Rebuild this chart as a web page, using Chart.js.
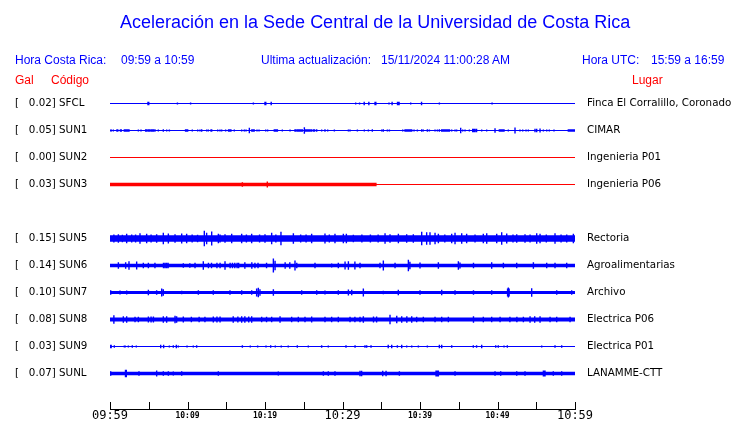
<!DOCTYPE html>
<html>
<head>
<meta charset="utf-8">
<script src="https://cdn.jsdelivr.net/npm/chart.js@4.4.1/dist/chart.umd.min.js"></script>
<style>
  body { margin: 0; background: #fff; }
  #wrap { position: relative; width: 740px; height: 423px; overflow: hidden; }
  #wrap canvas { position: absolute; left: 0; top: 0; }
  .txt { position: absolute; font-family: "Liberation Sans", Arial, sans-serif; white-space: pre; }
  .blue { color: #0000ff; }
  .red { color: #ff0000; }
  .title { font-size: 18px; line-height: 18px; }
  .small { font-size: 12px; line-height: 12px; }
</style>
</head>
<body>
<div id="wrap">
  <canvas id="sismo" width="740" height="423"></canvas>
  <div class="txt blue title" style="left:120px;top:13px">Aceleración en la Sede Central de la Universidad de Costa Rica</div>
  <div class="txt blue small" style="left:15px;top:54px">Hora Costa Rica:</div>
  <div class="txt blue small" style="left:121px;top:54px">09:59 a 10:59</div>
  <div class="txt blue small" style="left:261px;top:54px">Ultima actualización:</div>
  <div class="txt blue small" style="left:381px;top:54px">15/11/2024 11:00:28 AM</div>
  <div class="txt blue small" style="left:582px;top:54px">Hora UTC:</div>
  <div class="txt blue small" style="left:651px;top:54px">15:59 a 16:59</div>
  <div class="txt red small" style="left:15px;top:74px">Gal</div>
  <div class="txt red small" style="left:51px;top:74px">Código</div>
  <div class="txt red small" style="left:632px;top:74px">Lugar</div>
</div>
<script>
// Stations (top to bottom)
const codes = ['SFCL', 'SUN1', 'SUN2', 'SUN3', 'SUN5', 'SUN6', 'SUN7', 'SUN8', 'SUN9', 'SUNL'];
const places = ['Finca El Corralillo, Coronado', 'CIMAR', 'Ingenieria P01', 'Ingenieria P06', 'Rectoria',
                'Agroalimentarias', 'Archivo', 'Electrica P06', 'Electrica P01', 'LANAMME-CTT'];
const peakGal = [0.02, 0.05, 0.00, 0.03, 0.15, 0.14, 0.10, 0.08, 0.03, 0.07];
const traceRow = [0, 1, 2, 3, 5, 6, 7, 8, 9, 10];
const offline = ['SUN2', 'SUN3'];

// x axis: minutes after 09:59
const tickLabels = ['09:59', '10:09', '10:19', '10:29', '10:39', '10:49', '10:59'];

// background noise level of each trace: [start minute, half amplitude]
const bands = [
    [[0, 0.5]], [[0, 0.5]], [[0, 0.5]], [[0, 1.7], [34.4, 0.5]], [[0, 3.2]],
    [[0, 1.7]], [[0, 1.5]], [[0, 2]], [[0, 0.6]], [[0, 1.7]]
];

// peaks: [minute, amplitude]
const spikesSFCL = [[4.9,1.7],[5.0,1.7],[8.7,1],[10.4,1],[18.5,1],[20.0,1.7],[20.1,1.7],[20.8,1.7],[31.7,1],[32.2,1],
    [32.8,1.7],[33.4,1.7],[34.2,1.7],[34.3,1.7],[36.0,1],[36.4,1.7],[37.1,1.7],[37.2,1.7],[37.3,1.7],[38.8,1],[40.2,1.7],[42.5,1],[49.3,1]];
const spikesSUN1 = [[0.13,1.3],[0.43,1],[0.9,1.3],[1.0,1.3],[1.35,1.3],[1.45,1.3],[1.85,1.3],[2.0,1.3],[2.15,1.3],[2.3,1.3],
    [2.45,1.3],[3.66,1],[4.0,1],[4.6,1.3],[4.75,1.3],[4.95,1.3],[5.1,1.3],[5.3,1.3],[5.45,1.3],[5.6,1.3],[5.8,1.3],[6.24,1],
    [6.88,1.3],[7.31,1],[7.66,1],[9.75,1.3],[9.9,1.3],[10.02,1.3],[10.62,1],[11.31,1],[11.61,1],[11.83,1.3],[12.47,1],[12.69,1],
    [13.0,1],[13.12,1.3],[13.89,1],[14.19,1],[14.41,1],[14.92,1],[15.3,1.3],[15.45,1.3],[15.6,1.3],[16.04,1],[16.99,1],[17.33,1],
    [17.55,1],[17.98,2.7],[18.3,1.3],[18.45,1.3],[18.6,1.3],[18.97,1],[19.23,1],[20.09,1],[20.34,1],[21.2,1.3],[21.35,1.3],
    [21.5,1.3],[21.6,1.3],[22.24,1],[23.23,1],[23.87,1.3],[24.0,1.3],[24.2,1.3],[24.35,1.3],[24.5,1.3],[24.65,1.3],[24.82,1.3],
    [25.08,3.3],[25.2,1.3],[25.38,1.3],[25.55,1.3],[25.7,1.3],[25.81,1.3],[26.0,1.3],[26.24,1.3],[26.4,1.3],[26.67,1.3],[27.31,1],
    [27.74,1.3],[28.09,1],[28.95,1],[30.76,1],[30.97,1],[31.92,1],[32.82,1],[33.34,1],[33.85,1.3],[35.06,1],[35.27,1.3],[35.79,1],
    [36.05,1],[37.77,1],[38.07,1.3],[38.2,1.3],[38.35,1.3],[38.5,1.3],[38.65,1.3],[38.8,1.3],[38.93,1.3],[39.23,1],[39.66,1],
    [40.22,1.3],[40.43,1],[40.95,1.3],[41.21,1],[41.94,1],[42.24,1],[42.5,1.3],[42.8,1.3],[42.95,1.3],[43.1,1.3],[43.23,1.3],
    [43.4,1.3],[43.55,1.3],[43.66,1.3],[43.8,1.3],[44.09,1],[44.52,1],[44.73,1],[45.25,2.7],[45.51,1],[45.81,1],[46.37,1],
    [46.8,1.7],[46.95,1.7],[47.1,1.7],[47.3,1.7],[47.96,1],[48.6,1],[49.68,2.3],[50.24,1.3],[50.4,1.3],[50.55,1.3],[50.7,1.3],
    [50.84,1.3],[51.4,1],[52.26,3],[52.9,1],[53.25,1],[53.68,1],[53.98,1],[54.84,1.7],[55.06,1.7],[55.49,2],[55.92,1],[56.35,1],
    [56.69,1],[57.29,1],[59.14,1.3],[59.3,1.3],[59.45,1.3],[59.57,1.3],[59.75,1.3],[59.9,1.3],[60,1.3]];
const spikesSUN2 = [];
const spikesSUN3 = [[17.08,2.3],[20.3,3]];
const spikesSUN5 = [[0.5,4],[1.08,4.3],[1.6,3.8],[2.15,4.7],[2.8,4],[3.3,4],[3.87,5.3],[4.73,4.7],[5.3,4],[6.02,4.3],[6.88,5.7],
    [7.53,5],[8.39,4.3],[9.25,5],[9.89,4.7],[10.6,4],[11.3,3.8],[12.17,7.7],[12.47,5.8],[13.12,7],[13.98,4.7],[14.2,4],[14.84,4.3],
    [15.7,4.7],[16.99,4.7],[17.6,4],[18.28,4.7],[19.3,4],[20.0,4.3],[20.86,5.7],[21.4,4],[22.06,6.7],[23.66,5.3],[24.6,4],[25.3,4],
    [26.02,4.7],[27.74,5],[28.3,4],[29.03,4.7],[30.11,4.7],[30.5,4.7],[31.4,3.7],[32.5,4],[33.6,4],[34.6,4],[35.49,5.3],[36.13,4.3],
    [37.21,4.7],[38.28,4.3],[39.14,4.3],[40.22,6.7],[40.86,6.3],[41.29,6.3],[41.94,5.7],[42.37,4.7],[43.2,4],[44.09,4.7],[44.52,5.7],
    [45.38,5.3],[46.02,4.7],[47.1,4],[48.17,4.7],[48.61,5.3],[49.9,4.7],[50.54,6.3],[51.19,5],[52.0,4],[52.48,4.3],[53.55,4.3],
    [54.2,4],[55.06,5.3],[55.49,4.7],[56.3,4],[57.42,5.3],[58.2,4],[58.93,4],[59.79,4.7]];
const spikesSUN6 = [[1.08,3.3],[2.02,3.3],[2.45,4.3],[3.44,4],[4.3,2.7],[4.95,2.7],[5.8,2.7],[6.9,2.7],[7.1,2.7],[7.3,2.7],
    [7.5,2.7],[9.46,2.3],[10.3,2.3],[10.97,2.7],[12.04,4.3],[12.7,2.7],[13.1,2.7],[13.8,2.7],[14.2,2.7],[14.84,4.3],[15.5,2.7],
    [15.8,2.7],[16.1,2.7],[16.4,2.7],[16.6,2.7],[17.4,3.3],[18.3,3.3],[18.7,2.7],[19.1,2.7],[20.2,2.7],[21.08,7],[21.3,4.7],
    [22.6,3.3],[23.2,3.3],[23.87,5],[24.1,2.7],[26.45,2.7],[28.6,2],[29.46,2.7],[30.33,4],[30.76,4.3],[31.6,4],[32.26,2.7],
    [34.84,2.7],[35.27,5],[36.78,2.7],[38.5,5.7],[38.7,3.7],[40,3],[42.37,3.3],[44.95,4.3],[45.16,3],[46.9,2.7],[49.25,3.3],
    [50.76,2.7],[52.48,2.7],[54.63,3.3],[56.35,2.7],[57.42,2.7],[58.93,2.7]];
const spikesSUN7 = [[0.09,2.3],[1.29,2],[2.15,2],[4.95,2.7],[6.02,2.3],[6.67,4],[6.88,3.3],[9.25,1.7],[11.4,2.3],[13.33,2.3],
    [15.48,2.3],[16.99,2.3],[18.28,2.3],[18.92,4],[19.14,4.7],[19.35,3.3],[21.08,3.3],[24.73,2.3],[26.67,2.3],[27.74,2],[29.46,2.3],
    [30.76,3],[31.19,2.7],[32.69,4],[35.27,1.7],[37.2,2.7],[40,2.3],[42.8,2.7],[44.52,2.3],[46.9,2.3],[49.25,2.3],[51.3,4],
    [51.4,5],[51.5,4],[54.41,4.3],[57.64,2.3],[59.57,2.3]];
const spikesSUN8 = [[0.5,4.3],[1.72,3.3],[2.15,3.3],[3.23,2.7],[3.66,2.7],[4.95,3],[5.3,3],[5.6,3],[6.88,3.3],[7.31,3.3],
    [8.39,3.7],[8.6,3.3],[9.46,3],[10.5,2.7],[11.5,2.7],[12.25,2.7],[13.33,3],[13.8,3],[14.2,3],[15.9,3.3],[16.5,3],[16.99,3.3],
    [17.4,3.3],[17.9,3],[18.28,3.3],[19.57,2.7],[20.2,2.7],[20.86,2.7],[21.94,3.3],[23.44,2.7],[24.3,2.7],[25.16,2.7],[26.02,3],
    [27.74,2.7],[28.6,2.7],[29.46,2.7],[30.97,2.7],[31.6,2.7],[32.26,2.7],[32.69,3.3],[34,3],[34.4,3],[36.13,4.7],[37,3.7],
    [37.64,3.3],[38.3,3.3],[38.93,3.3],[39.57,2.7],[40.43,2.7],[41.94,2.7],[42.8,2.7],[43.66,2.7],[46.9,3.3],[48.17,2.7],
    [49.25,2.7],[50.33,2.7],[51.6,2.7],[52.5,2.7],[53.34,2.7],[54.2,3.3],[54.8,3.3],[55.49,3.3],[56.78,2.7],[57.64,2.7],[59.36,2.7]];
const spikesSUN9 = [[0.05,1.7],[0.15,1.7],[0.56,1.3],[1.85,1],[1.95,1],[2.37,1],[2.88,1.3],[3.4,1],[6.54,1.7],[6.92,1.7],
    [7.66,1],[8.17,1.3],[8.56,1.7],[8.82,1],[9.94,1],[10.75,1],[11.18,1.3],[17.08,1.3],[18.1,1],[19.05,1],[20.13,1],[20.73,1.3],
    [21.33,1],[22.1,1],[23.0,1],[24.17,1.3],[25.59,1],[27.31,1.3],[28.17,1],[30.45,1.3],[31.62,1.3],[32.9,1.3],[33.12,1.3],
    [33.68,1.3],[35.9,1.7],[36.35,1.7],[37.08,1.3],[37.64,1.7],[38.28,1],[38.93,1],[39.79,1],[40.95,1],[42.5,1.7],[42.8,1.7],
    [44.09,1.3],[46.88,1.3],[47.3,1.3],[47.96,1.7],[49.77,1.3],[50.1,1.3],[50.84,1],[51.27,1.3],[55.7,1],[57.42,1.3],[58.28,1.3]];
const spikesSUNL = [[0.09,2.3],[2.0,3.7],[2.1,3.7],[3.74,2.3],[6.02,3],[6.88,2.3],[7.53,2.3],[8.17,2],[9.25,2.3],[13.98,2.3],
    [21.72,2],[27.53,2.3],[28.17,2.3],[29.03,2.3],[32.26,2.7],[32.47,2.7],[35.19,2.7],[35.62,2.7],[37.34,2.3],[42.07,3],[42.2,3],
    [42.37,3],[44.52,2.3],[49.68,2.3],[50.41,2.3],[52.48,2.3],[53.55,2.3],[55.92,3],[56.05,3],[56.13,3],[57.2,2.3],[58.28,2.3]];

const spikes = [spikesSFCL, spikesSUN1, spikesSUN2, spikesSUN3, spikesSUN5,
                spikesSUN6, spikesSUN7, spikesSUN8, spikesSUN9, spikesSUNL];

const BLUE = '#0000ff';
const RED = '#ff0000';
const GAIN = 1 / 27;      // trace amplitude -> row units
const Y_MAX = 11.3148;    // bottom of the plot, in rows

// Build band + spike datasets for each trace
function buildDatasets() {
    const sets = [];
    codes.forEach((code, i) => {
        const row = traceRow[i];
        const color = offline.includes(code) ? RED : BLUE;
        const steps = bands[i];
        const upper = [], lower = [];
        steps.forEach((s, k) => {
            const end = k + 1 < steps.length ? steps[k + 1][0] : 60;
            upper.push({ x: s[0], y: row - s[1] * GAIN }, { x: end, y: row - s[1] * GAIN });
            lower.push({ x: s[0], y: row + s[1] * GAIN }, { x: end, y: row + s[1] * GAIN });
        });
        sets.push({ data: upper, fill: '+1', backgroundColor: color, borderColor: 'rgba(0,0,0,0)', borderWidth: 0, pointRadius: 0 });
        sets.push({ data: lower, fill: false, borderColor: 'rgba(0,0,0,0)', borderWidth: 0, pointRadius: 0 });

        const seg = [];
        spikes[i].forEach(([t, a]) => {
            seg.push({ x: t, y: row - a * GAIN }, { x: t, y: row + a * GAIN }, { x: t, y: null });
        });
        sets.push({ data: seg, fill: false, borderColor: color, borderWidth: 1.4, pointRadius: 0, spanGaps: false });
    });
    return sets;
}

function gallabel(v) {
    const i = traceRow.indexOf(v);
    if (i < 0) return '';
    return '[' + peakGal[i].toFixed(2).padStart(7, ' ') + '] ' + codes[i];
}

// y axes must not push the plot area with label padding
function fixSide(width) {
    return s => {
        s.width = width;
        s.paddingTop = 0;
        s.paddingBottom = 0;
    };
}

// small tick marks standing up from the time axis
const tickMarks = {
    id: 'tickMarks',
    afterDraw(chart) {
        const xs = chart.scales.x;
        const ctx = chart.ctx;
        const bottom = chart.chartArea.bottom;
        ctx.save();
        ctx.strokeStyle = '#000';
        ctx.lineWidth = 1;
        ctx.beginPath();
        xs.ticks.forEach(t => {
            const px = Math.round(xs.getPixelForValue(t.value)) + 0.5;
            ctx.moveTo(px, bottom - 7);
            ctx.lineTo(px, bottom);
        });
        ctx.stroke();
        ctx.restore();
    }
};

new Chart(document.getElementById('sismo'), {
    type: 'line',
    data: { datasets: buildDatasets() },
    plugins: [tickMarks],
    options: {
        responsive: false,
        animation: false,
        events: [],
        layout: { padding: { left: 15, top: 76.5, right: 0, bottom: 0 } },
        elements: { line: { tension: 0, capBezierPoints: false } },
        plugins: { legend: { display: false }, tooltip: { enabled: false } },
        scales: {
            x: {
                type: 'linear', position: 'bottom', min: 0, max: 60,
                grid: { display: false, drawTicks: false },
                border: { display: true, color: '#000', width: 1 },
                afterFit: s => { s.height = 14; },
                ticks: {
                    stepSize: 5, autoSkip: false, maxRotation: 0, padding: 0, color: '#000',
                    font: ctx => (ctx.tick && ctx.tick.value % 30 === 0)
                        ? { family: 'DejaVu Sans Mono', size: 12, lineHeight: 1.2 }
                        : { family: 'DejaVu Sans Mono', size: 8, weight: 'bold', lineHeight: 1.8 },
                    callback: v => (v % 10 === 0 ? tickLabels[v / 10] : '')
                }
            },
            y: {
                type: 'linear', position: 'left', reverse: true, min: -1, max: Y_MAX,
                grid: { display: false }, border: { display: false },
                afterBuildTicks: s => { s.ticks = traceRow.map(v => ({ value: v })); },
                afterFit: fixSide(95),
                ticks: {
                    crossAlign: 'far', color: '#000', autoSkip: false,
                    font: { family: 'DejaVu Sans', size: 10.3 },
                    callback: v => gallabel(v)
                }
            },
            y2: {
                type: 'linear', position: 'right', reverse: true, min: -1, max: Y_MAX,
                grid: { display: false, drawTicks: false }, border: { display: false },
                afterBuildTicks: s => { s.ticks = traceRow.map(v => ({ value: v })); },
                afterFit: fixSide(165),
                ticks: {
                    padding: 12, color: '#000', autoSkip: false,
                    font: { family: 'DejaVu Sans', size: 10.3 },
                    callback: v => {
                        const i = traceRow.indexOf(v);
                        return i < 0 ? '' : places[i];
                    }
                }
            }
        }
    }
});
</script>
</body>
</html>
